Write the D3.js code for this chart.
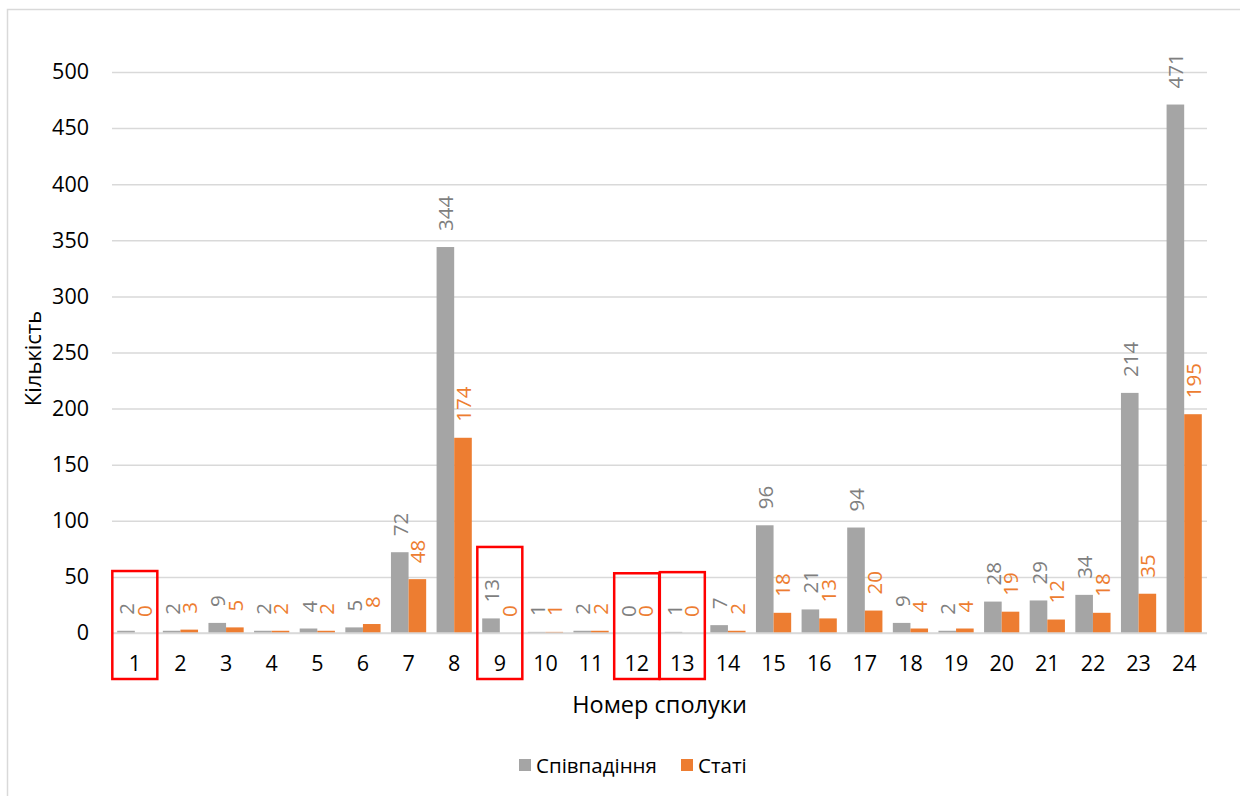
<!DOCTYPE html>
<html>
<head>
<meta charset="utf-8">
<script src="https://cdn.jsdelivr.net/npm/d3@7"></script>
<style>
  html, body { margin: 0; padding: 0; background: #fff; }
  svg { display: block; font-family: "Open Sans", "Noto Sans", sans-serif; }
</style>
</head>
<body>
<svg id="chart" width="1240" height="796"></svg>
<script>
// Compound numbers along the x axis
const categories = ["1","2","3","4","5","6","7","8","9","10","11","12","13","14","15","16","17","18","19","20","21","22","23","24"];
// Matches per compound
const matchValues = [2,2,9,2,4,5,72,344,13,1,2,0,1,7,96,21,94,9,2,28,29,34,214,471];
// Articles per compound
const articleValues = [0,3,5,2,2,8,48,174,0,1,2,0,0,2,18,13,20,4,4,19,12,18,35,195];
const seriesNames = ["Співпадіння", "Статі"];
const yTicks = [0,50,100,150,200,250,300,350,400,450,500];
// Compounds outlined in red
const highlighted = ["1","9","12","13"];

const colors = ["#a5a5a5", "#ed7d31"];
const labelColors = ["#7f7f7f", "#ed7d31"];

const svg = d3.select("#chart");
const W = 1240, H = 796;
const margin = {left: 112, right: 33, top: 72, bottom: 163};

// outer chart frame (runs off the right and bottom edges)
svg.append("rect")
  .attr("x", 7.5).attr("y", 9.5)
  .attr("width", W).attr("height", H)
  .attr("fill", "none").attr("stroke", "#d9d9d9").attr("stroke-width", 1.5);

const x0 = d3.scaleBand()
  .domain(categories)
  .range([margin.left, W - margin.right])
  .paddingInner(0.228)
  .paddingOuter(0.114);

const x1 = d3.scaleBand()
  .domain([0, 1])
  .range([0, x0.bandwidth()]);

const y = d3.scaleLinear()
  .domain([0, 500])
  .range([H - margin.bottom, margin.top]);

// horizontal gridlines
const yAxis = d3.axisLeft(y)
  .tickValues(yTicks)
  .tickSize(-(W - margin.right - margin.left))
  .tickPadding(23);

const gy = svg.append("g")
  .attr("transform", `translate(${margin.left},0)`)
  .call(yAxis);
gy.select(".domain").remove();
gy.selectAll(".tick line").attr("stroke", "#d9d9d9").attr("stroke-width", 1.5);
gy.selectAll(".tick text")
  .attr("font-size", 21.5).attr("fill", "#000")
  .attr("font-family", "Open Sans");

// category axis
const xAxis = d3.axisBottom(x0).tickSize(0).tickPadding(23);
const gx = svg.append("g")
  .attr("transform", `translate(0,${y(0)})`)
  .call(xAxis);
gx.select(".domain").remove();
gx.selectAll(".tick text")
  .attr("font-size", 21.5).attr("fill", "#000")
  .attr("font-family", "Open Sans");

const rows = categories.map((c, i) => ({cat: c, vals: [matchValues[i], articleValues[i]]}));

const groups = svg.append("g").selectAll("g")
  .data(rows).join("g")
  .attr("transform", d => `translate(${x0(d.cat)},0)`);

groups.selectAll("rect")
  .data(d => d.vals.map((v, k) => ({v, k})))
  .join("rect")
  .attr("x", d => x1(d.k))
  .attr("width", x1.bandwidth())
  .attr("y", d => y(d.v))
  .attr("height", d => y(0) - y(d.v))
  .attr("fill", d => colors[d.k]);

// rotated value labels above each bar
const labelGap = 16;
groups.selectAll("text.val")
  .data(d => d.vals.map((v, k) => ({v, k})))
  .join("text")
  .attr("class", "val")
  .attr("transform", d => `translate(${x1(d.k) + x1.bandwidth() / 2},${y(d.v) - labelGap}) rotate(-90)`)
  .attr("text-anchor", "start")
  .attr("dominant-baseline", "central")
  .attr("font-size", 20.5)
  .attr("fill", d => labelColors[d.k])
  .text(d => d.v);

// zero line drawn over the bar bases
svg.append("line")
  .attr("x1", margin.left).attr("x2", W - margin.right)
  .attr("y1", y(0)).attr("y2", y(0))
  .attr("stroke", "#d9d9d9").attr("stroke-width", 1.5);

// red outlines around selected compounds
groups.filter(d => highlighted.includes(d.cat)).each(function(d) {
  const g = d3.select(this);
  let top = Infinity;
  g.selectAll("text.val").each(function(t) {
    const len = this.getComputedTextLength();
    top = Math.min(top, y(t.v) - labelGap - len);
  });
  const cx = x0.bandwidth() / 2;
  const boxTop = top - 32;
  const boxBottom = y(0) + 46;
  svg.append("rect")
    .attr("x", x0(d.cat) + cx - 22.5)
    .attr("y", boxTop)
    .attr("width", 45)
    .attr("height", boxBottom - boxTop)
    .attr("fill", "none")
    .attr("stroke", "#ff0000")
    .attr("stroke-width", 2.5);
});

// axis titles
svg.append("text")
  .attr("transform", `translate(41,${(y(0) + y(500)) / 2 + 6}) rotate(-90)`)
  .attr("text-anchor", "middle")
  .attr("font-size", 22).attr("fill", "#000")
  .text("Кількість");

svg.append("text")
  .attr("x", (margin.left + W - margin.right) / 2)
  .attr("y", 713)
  .attr("text-anchor", "middle")
  .attr("font-size", 23.5).attr("fill", "#000")
  .text("Номер сполуки");

// legend
const legend = svg.append("g").attr("transform", "translate(519,765)");
const legendX = [0, 162];
seriesNames.forEach((name, k) => {
  const lg = legend.append("g").attr("transform", `translate(${legendX[k]},0)`);
  lg.append("rect").attr("x", 0).attr("y", -6).attr("width", 12).attr("height", 12).attr("fill", colors[k]);
  lg.append("text").attr("x", 17).attr("y", 0)
    .attr("dominant-baseline", "central")
    .attr("font-size", 20.5).attr("fill", "#000")
    .text(name);
});
</script>
</body>
</html>
